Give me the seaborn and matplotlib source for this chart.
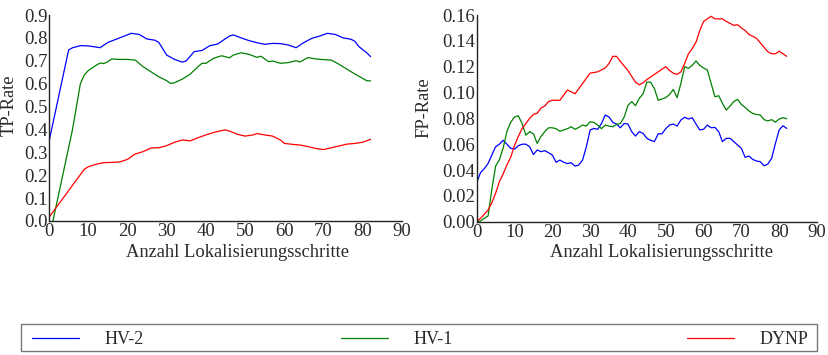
import numpy as np
import pandas as pd
import matplotlib
matplotlib.use("Agg")
import matplotlib.pyplot as plt
from matplotlib.patches import Rectangle
from matplotlib.lines import Line2D
import seaborn as sns

sns.set_theme(style="white")
plt.rcParams['font.family'] = ['Liberation Serif', 'DejaVu Serif']

# ---------------- data ----------------
series_names = ["HV-2", "HV-1", "DYNP"]
series_colors = ["#0000ff", "#008000", "#ff0000"]

# TP-Rate (left panel)
tp_hv2_x = [0, 5, 6, 8, 10, 12, 13, 15, 18, 21, 23, 25, 27, 28, 30, 32, 34, 35, 37, 39, 41, 43, 44,
            46, 47, 49, 51, 53, 55, 57, 59, 61, 63, 65, 67, 69, 71, 73, 75, 77, 78, 79, 81, 82]
tp_hv2_y = [0.347, 0.747, 0.757, 0.766, 0.765, 0.76, 0.757, 0.78, 0.80, 0.82, 0.815, 0.795, 0.79, 0.78,
            0.725, 0.706, 0.694, 0.70, 0.74, 0.745, 0.766, 0.773, 0.785,
            0.808, 0.813, 0.80, 0.788, 0.779, 0.772, 0.776, 0.775, 0.769, 0.757, 0.78, 0.798, 0.808,
            0.82, 0.815, 0.80, 0.794, 0.785, 0.762, 0.735, 0.718]

tp_hv1_x = [1, 3, 5, 6, 8, 9, 10, 12, 13, 14, 15, 16, 18, 20, 22, 24, 26, 28, 30, 31, 32, 34, 36, 38,
            39, 40, 42, 44, 46, 47, 49, 51, 53, 54, 56, 57, 59, 61, 63, 64, 66, 68, 70, 72, 74, 76,
            78, 80, 81, 82]
tp_hv1_y = [0.0, 0.16, 0.32, 0.40, 0.60, 0.638, 0.657, 0.68, 0.69, 0.688, 0.696, 0.708, 0.706, 0.706,
            0.703, 0.674, 0.652, 0.63, 0.613, 0.601, 0.604, 0.62, 0.642, 0.674, 0.689, 0.689, 0.711,
            0.722, 0.713, 0.725, 0.735, 0.728, 0.715, 0.72, 0.696, 0.699, 0.689, 0.692, 0.70, 0.695,
            0.714, 0.708, 0.705, 0.703, 0.684, 0.663, 0.642, 0.623, 0.613, 0.612]

tp_dynp_x = [0, 9, 10, 12, 14, 16, 18, 20, 22, 24, 26, 28, 30, 32, 34, 36, 38, 40, 42, 44, 45, 46,
             48, 50, 52, 53, 55, 57, 59, 60, 62, 64, 66, 68, 70, 72, 74, 76, 78, 80, 82]
tp_dynp_y = [0.016, 0.226, 0.237, 0.248, 0.255, 0.256, 0.258, 0.269, 0.293, 0.303, 0.319, 0.32, 0.329,
             0.344, 0.354, 0.35, 0.364, 0.376, 0.387, 0.395, 0.398, 0.393, 0.379, 0.371, 0.376, 0.382,
             0.376, 0.371, 0.354, 0.339, 0.335, 0.332, 0.325, 0.317, 0.312, 0.32, 0.328, 0.336, 0.339,
             0.344, 0.357]

# FP-Rate (right panel), steps 0..82
fp_steps = list(range(83))
fp_hv2 = [0.030, 0.038, 0.041, 0.045, 0.0516, 0.058, 0.060, 0.063, 0.060, 0.0568, 0.0562, 0.0588, 0.060,
          0.060, 0.058, 0.052, 0.0555, 0.0542, 0.055, 0.0534, 0.0516, 0.046, 0.0477, 0.046, 0.045,
          0.0457, 0.043, 0.0439, 0.0477, 0.058, 0.071, 0.0722, 0.0715, 0.076, 0.0826, 0.081, 0.0769,
          0.0756, 0.0727, 0.076, 0.0756, 0.0697, 0.0663, 0.0697, 0.0684, 0.0645, 0.063, 0.062, 0.068,
          0.068, 0.072, 0.0748, 0.0756, 0.074, 0.0787, 0.0808, 0.0795, 0.0805, 0.0756, 0.071, 0.0715,
          0.0748, 0.0727, 0.073, 0.0697, 0.062, 0.0645, 0.0645, 0.062, 0.0593, 0.0568, 0.0498, 0.0508,
          0.0482, 0.047, 0.0464, 0.0433, 0.0446, 0.049, 0.0606, 0.071, 0.0743, 0.0722]
fp_hv1 = [0.0, 0.0005, 0.0026, 0.0044, 0.025, 0.043, 0.048, 0.057, 0.070, 0.077, 0.081, 0.082, 0.076,
          0.067, 0.0697, 0.068, 0.0606, 0.066, 0.0697, 0.0727, 0.0727, 0.072, 0.070, 0.071, 0.072,
          0.0735, 0.0715, 0.073, 0.0748, 0.074, 0.0774, 0.0769, 0.0748, 0.072, 0.0748, 0.074, 0.0735,
          0.0753, 0.076, 0.081, 0.090, 0.093, 0.0898, 0.0955, 0.099, 0.108, 0.108, 0.103, 0.094, 0.095,
          0.096, 0.0985, 0.1024, 0.096, 0.107, 0.120, 0.1187, 0.121, 0.1244, 0.121, 0.119, 0.1174,
          0.107, 0.0967, 0.0975, 0.0916, 0.0864, 0.0895, 0.093, 0.0947, 0.0908, 0.0885, 0.0857,
          0.0838, 0.083, 0.0826, 0.079, 0.078, 0.079, 0.077, 0.0795, 0.0805, 0.0797]
fp_dynp = [0.0, 0.0026, 0.0057, 0.009, 0.0147, 0.022, 0.031, 0.037, 0.044, 0.050, 0.059, 0.066, 0.072,
           0.076, 0.080, 0.083, 0.084, 0.088, 0.0895, 0.093, 0.094, 0.094, 0.094, 0.098, 0.102, 0.1005,
           0.099, 0.103, 0.107, 0.111, 0.115, 0.1155, 0.116, 0.1175, 0.119, 0.1225, 0.128, 0.128,
           0.124, 0.1205, 0.117, 0.1125, 0.108, 0.106, 0.1075, 0.110, 0.112, 0.114, 0.116, 0.118,
           0.120, 0.117, 0.115, 0.114, 0.116, 0.1225, 0.130, 0.134, 0.139, 0.148, 0.155, 0.157, 0.159,
           0.157, 0.157, 0.157, 0.155, 0.1535, 0.152, 0.1525, 0.150, 0.148, 0.145, 0.1435, 0.142,
           0.1385, 0.135, 0.1315, 0.130, 0.130, 0.132, 0.130, 0.128]

x_ticks = [0, 10, 20, 30, 40, 50, 60, 70, 80, 90]
tp_ticks = [0.0, 0.1, 0.2, 0.3, 0.4, 0.5, 0.6, 0.7, 0.8, 0.9]
fp_ticks = [0.00, 0.02, 0.04, 0.06, 0.08, 0.10, 0.12, 0.14, 0.16]
x_label = "Anzahl Lokalisierungsschritte"

# ---------------- frames ----------------
tp_df = pd.concat([
    pd.DataFrame({"step": tp_hv2_x, "rate": tp_hv2_y, "method": "HV-2"}),
    pd.DataFrame({"step": tp_hv1_x, "rate": tp_hv1_y, "method": "HV-1"}),
    pd.DataFrame({"step": tp_dynp_x, "rate": tp_dynp_y, "method": "DYNP"}),
], ignore_index=True)
fp_df = pd.concat([
    pd.DataFrame({"step": fp_steps, "rate": fp_hv2, "method": "HV-2"}),
    pd.DataFrame({"step": fp_steps, "rate": fp_hv1, "method": "HV-1"}),
    pd.DataFrame({"step": fp_steps, "rate": fp_dynp, "method": "DYNP"}),
], ignore_index=True)

palette = dict(zip(series_names, series_colors))

fig = plt.figure(figsize=(8.29, 3.55), dpi=100)
ax1 = fig.add_axes([49 / 829, 1 - 221 / 355, 353 / 829, 206 / 355])
ax2 = fig.add_axes([476.7 / 829, 1 - 221.7 / 355, 340.3 / 829, 206.7 / 355])

TFS = 13.5   # tick labels
LFS = 13.3   # axis labels
GFS = 13.0   # legend
TXT = "#2a2a2a"
for ax, df, ticks, fmt, ylab, ylim in [
    (ax1, tp_df, tp_ticks, "{:.1f}", "TP-Rate", (0, 0.9)),
    (ax2, fp_df, fp_ticks, "{:.2f}", "FP-Rate", (0, 0.16)),
]:
    sns.lineplot(data=df, x="step", y="rate", hue="method", palette=palette,
                 hue_order=series_names, estimator=None, sort=True, linewidth=0.9,
                 legend=False, ax=ax)
    ax.set_xlim(0, 90)
    ax.set_ylim(*ylim)
    ax.set_xticks(x_ticks)
    ax.set_xticklabels([str(t) for t in x_ticks], fontsize=TFS, color=TXT)
    ax.set_yticks(ticks)
    ax.set_yticklabels([fmt.format(t) for t in ticks], fontsize=TFS, color=TXT)
    ax.tick_params(axis="y", length=0, pad=1.0)
    ax.tick_params(axis="x", length=0, pad=1.5)
    for s in ["top", "right"]:
        ax.spines[s].set_visible(False)
    for s in ["left", "bottom"]:
        ax.spines[s].set_color("#222222")
        ax.spines[s].set_linewidth(1.0)
    ax.set_xlabel(x_label, fontsize=LFS, color=TXT)
    ax.set_ylabel(ylab, fontsize=LFS, color=TXT)
    ax.set_facecolor("white")

ax1.xaxis.set_label_coords(0.533, -0.112)
ax2.xaxis.set_label_coords(0.542, -0.110)
ax1.yaxis.set_label_coords(-0.090, 0.563)
ax2.yaxis.set_label_coords(-0.130, 0.55)

# ---------------- legend ----------------
fig.patches.append(Rectangle((21 / 829, 1 - 351 / 355), 796 / 829, 27 / 355,
                             transform=fig.transFigure, fill=False,
                             edgecolor="#777777", linewidth=1.0))
starts = [32.5 / 829, 341.5 / 829, 687.5 / 829]
for name, color, x0 in zip(series_names, series_colors, starts):
    h = Line2D([], [], color=color, linewidth=0.9)
    fig.legend([h], [name], loc="center left", bbox_to_anchor=(x0, 1 - 340 / 355),
               frameon=False, fontsize=GFS, handlelength=2.55, handletextpad=1.45,
               borderpad=0, borderaxespad=0, labelcolor=TXT)

fig.savefig("out.png", dpi=100, facecolor="white")
